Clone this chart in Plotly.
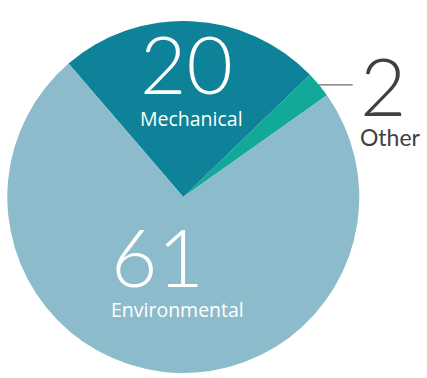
import math
import plotly.graph_objects as go

categories = ["Mechanical", "Other", "Environmental"]
values = [20, 2, 61]
colors = ["#0e8298", "#12a89a", "#8cbccb"]

W, H = 427, 378
cx, cy, R = 183.3, 197.0, 176.0
rotation = -40.7

def px(x):
    return x / W

def py(y):
    return 1 - y / H

fig = go.Figure(go.Pie(
    labels=categories,
    values=values,
    sort=False,
    direction="clockwise",
    rotation=rotation,
    marker=dict(colors=colors, line=dict(width=0)),
    textinfo="none",
    hoverinfo="label+value",
    showlegend=False,
    domain=dict(x=[px(cx - R), px(cx + R)], y=[py(cy + R), py(cy - R)]),
))


def label_text(value, name, name_size, name_family):
    return (f"<span style='font-size:80px;font-weight:300;font-family:Lato'>{value}</span>"
            f"<br><span style='font-size:{name_size}px;font-family:{name_family}'>{name}</span>")


# leader point for "Other": middle of its slice on the rim
total = sum(values)
mid_other = rotation + 360 * (values[0] + values[1] / 2) / total
lx = cx + R * math.sin(math.radians(mid_other))
ly = cy - R * math.cos(math.radians(mid_other))

ann = [
    dict(x=px(139), y=py(14), text=label_text(values[0], categories[0], 19.5, "Open Sans"),
         font=dict(family="Open Sans", size=24.6, color="white")),
    dict(x=px(110), y=py(207), text=label_text(values[2], categories[2], 19.5, "Open Sans"),
         font=dict(family="Open Sans", size=23, color="white")),
    dict(x=px(359), y=py(36), text=label_text(values[1], categories[1], 23, "Lato"),
         font=dict(family="Lato", size=23, color="#404040")),
]
for a in ann:
    a.update(xref="paper", yref="paper", showarrow=False, xanchor="left", yanchor="top",
             align="left", borderpad=0)

fig.update_layout(
    width=W, height=H,
    margin=dict(l=0, r=0, t=0, b=0),
    paper_bgcolor="white",
    plot_bgcolor="white",
    annotations=ann,
    shapes=[dict(type="line", xref="paper", yref="paper",
                 x0=px(lx), y0=py(ly), x1=px(352.7), y1=py(ly),
                 line=dict(color="#6b6b6b", width=1.2))],
)

fig.write_html("out.html", config={"displayModeBar": False},
               post_script="document.body.style.margin='0';")
